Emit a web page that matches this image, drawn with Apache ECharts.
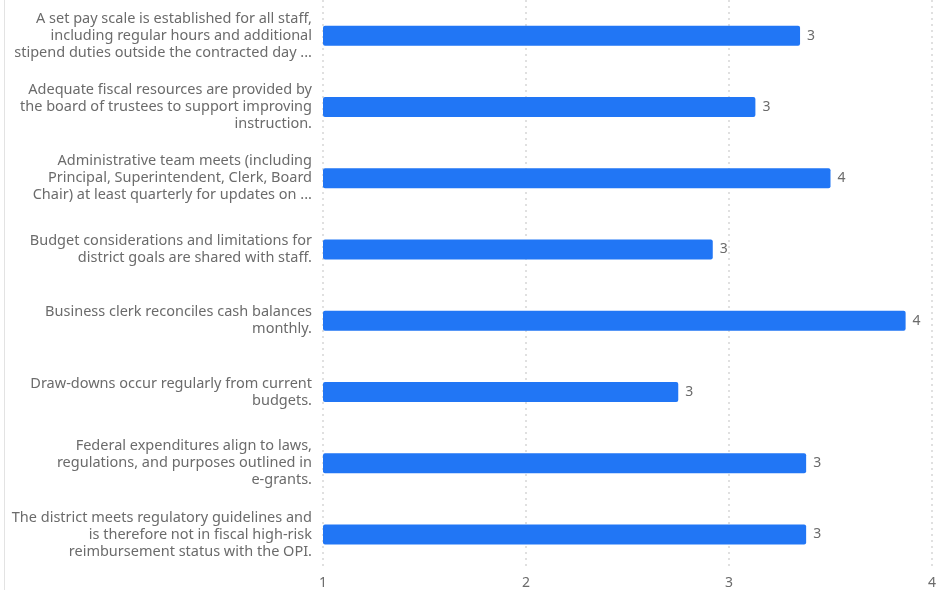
<!DOCTYPE html>
<html>
<head>
<meta charset="utf-8">
<style>
  html, body { margin: 0; padding: 0; background: #ffffff; }
  #chart { width: 951px; height: 590px; }
</style>
<script src="https://cdn.jsdelivr.net/npm/echarts@6/dist/echarts.min.js"></script>
</head>
<body>
<div id="chart"></div>
<script>
// Survey statements (top to bottom), line breaks as displayed
const categories = [
  'A set pay scale is established for all staff,\nincluding regular hours and additional\nstipend duties outside the contracted day ...',
  'Adequate fiscal resources are provided by\nthe board of trustees to support improving\ninstruction.',
  'Administrative team meets (including\nPrincipal, Superintendent, Clerk, Board\nChair) at least quarterly for updates on ...',
  'Budget considerations and limitations for\ndistrict goals are shared with staff.',
  'Business clerk reconciles cash balances\nmonthly.',
  'Draw-downs occur regularly from current\nbudgets.',
  'Federal expenditures align to laws,\nregulations, and purposes outlined in\ne-grants.',
  'The district meets regulatory guidelines and\nis therefore not in fiscal high-risk\nreimbursement status with the OPI.'
];

// Average rating per statement
const scores = [3.35, 3.13, 3.50, 2.92, 3.87, 2.75, 3.38, 3.38];

// Value axis ticks
const xTicks = [1, 2, 3, 4];

const chart = echarts.init(document.getElementById('chart'), null, { renderer: 'canvas' });

const FONT = '"Noto Sans", "Open Sans", sans-serif';

chart.setOption({
  animation: false,
  backgroundColor: '#ffffff',
  grid: { left: 323, right: 19, top: 0, bottom: 19, containLabel: false },
  xAxis: {
    type: 'value',
    min: xTicks[0],
    max: xTicks[xTicks.length - 1],
    interval: 1,
    axisLine: { show: false },
    axisTick: { show: false },
    splitLine: { show: true, lineStyle: { color: '#e0e0e0', type: [2, 4], width: 2 } },
    axisLabel: { color: '#6b6b6b', fontSize: 14, fontFamily: FONT, margin: 6 }
  },
  yAxis: {
    type: 'category',
    inverse: true,
    data: categories,
    axisLine: { show: false },
    axisTick: { show: false },
    splitLine: { show: false },
    axisLabel: {
      color: '#6b6b6b', fontSize: 14.5, fontFamily: FONT,
      lineHeight: 17, margin: 11, align: 'right',
      padding: [4, 0, 0, 0]
    }
  },
  series: [{
    type: 'bar',
    data: scores,
    barWidth: 20,
    itemStyle: { color: '#2176f5', borderRadius: 2 },
    label: {
      show: true,
      position: 'right',
      distance: 7,
      color: '#6b6b6b',
      fontSize: 14,
      fontFamily: FONT,
      formatter: p => Math.round(p.value)
    }
  }],
  graphic: [{
    type: 'line',
    shape: { x1: 4.5, y1: 0, x2: 4.5, y2: 590 },
    style: { stroke: '#e3e3e3', lineWidth: 1 }
  }]
});
</script>
</body>
</html>
